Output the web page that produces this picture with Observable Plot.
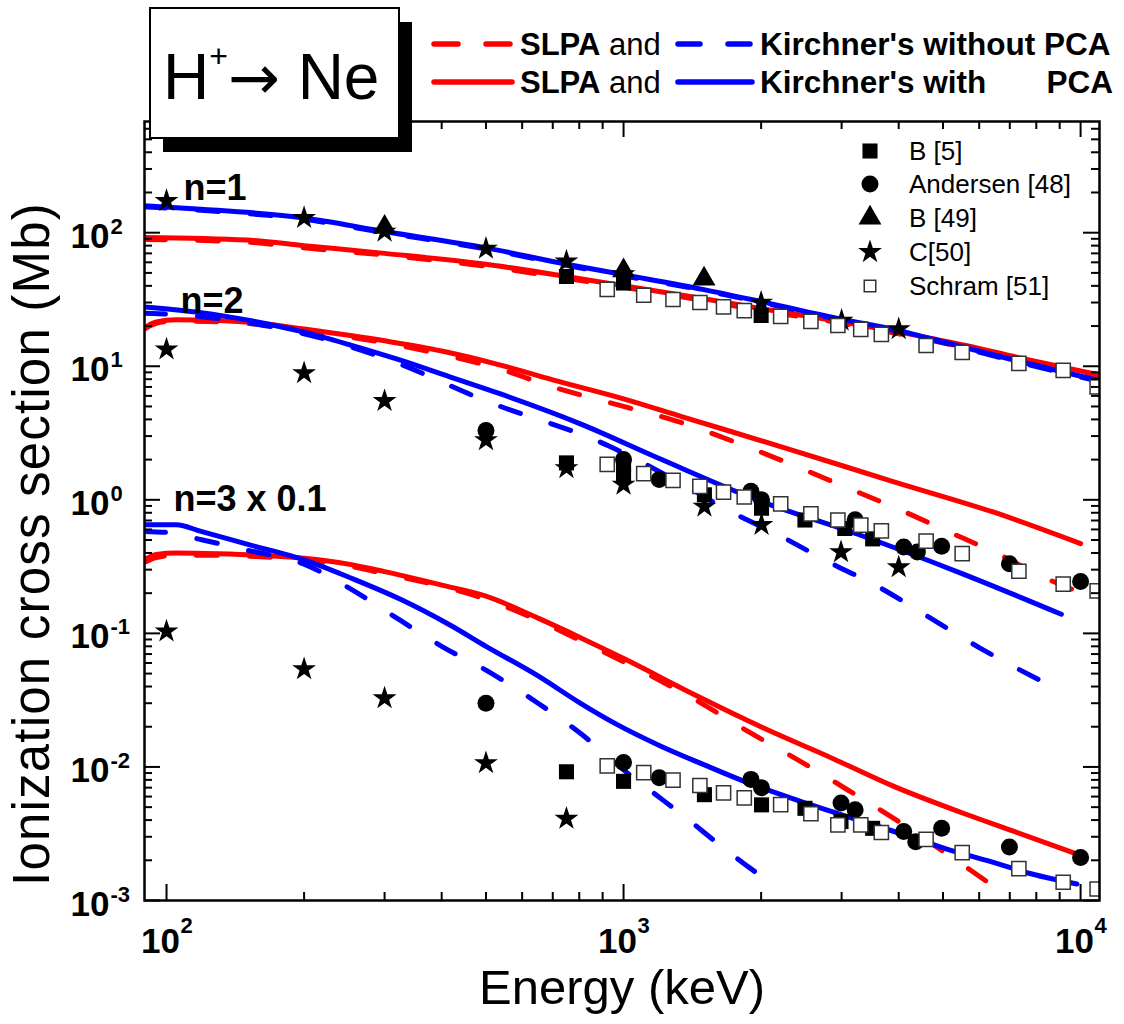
<!DOCTYPE html>
<html>
<head>
<meta charset="utf-8">
<script src="https://cdn.jsdelivr.net/npm/d3@7"></script>
<script src="https://cdn.jsdelivr.net/npm/@observablehq/plot@0.6"></script>
<style>
  body { margin: 0; background: #fff; font-family: "Liberation Sans", Arial, sans-serif; }
  #wrap { position: relative; width: 1124px; height: 1024px; overflow: hidden; }
  #wrap svg { position: absolute; left: 0; top: 0; }
</style>
</head>
<body>
<div id="wrap"></div>
<script>
// ---------------- data (energy keV, cross section Mb; n=3 already x0.1) ----------------
// SLPA without PCA (red dashed)
const slpaWithout_n1 = [[89.5,89],[150,85],[200,77],[300,68],[500,56],[750,45.5],[1000,39],[1500,31],[2000,26.2],[3000,21],[4000,17.5],[5500,14],[7400,11.2],[11000,8.4]];
const slpaWithout_n2 = [[89.5,19],[95,21],[105,21.8],[130,21.5],[160,20.5],[200,18.5],[300,15],[400,12.3],[538,9.5],[700,7.0],[1000,5.0],[1295,3.92],[1884,2.46],[2427,1.74],[3105,1.22],[4000,0.85],[5153,0.575],[6580,0.395],[8472,0.255],[10000,0.202]];
const slpaWithout_n3 = [[89.5,0.34],[95,0.37],[105,0.385],[130,0.385],[160,0.375],[200,0.355],[250,0.32],[300,0.28],[400,0.225],[500,0.18],[650,0.125],[807,0.088],[1014,0.0598],[1462,0.0307],[1884,0.0182],[2427,0.0111],[3126,0.00658],[4000,0.0039],[5153,0.00218],[6580,0.00122]];
// SLPA with PCA (red solid)
const slpaWith_n1 = [[89.5,92],[150,88],[200,80],[300,70],[500,58],[750,47],[1000,40],[1500,32],[2000,27],[3000,21.5],[4000,18],[5500,14.5],[7400,11.5],[11000,8.6]];
const slpaWith_n2 = [[89.5,19.5],[95,21.5],[105,22.3],[130,22],[160,21],[200,19],[300,15.5],[400,13],[538,10.2],[700,7.9],[1000,5.7],[1340,4.2],[2307,2.39],[3890,1.37],[6580,0.79],[10000,0.47]];
const slpaWith_n3 = [[89.5,0.356],[95,0.39],[105,0.40],[130,0.395],[160,0.385],[200,0.365],[250,0.33],[300,0.29],[400,0.23],[500,0.19],[650,0.13],[807,0.0925],[1014,0.0634],[1438,0.0344],[2042,0.0193],[2891,0.01143],[3892,0.00718],[5520,0.00452],[7178,0.00328],[10000,0.00218]];
// Kirchner's without PCA (blue dashed)
const kirchWithout_n1 = [[89.5,156],[119,147],[200,126],[300,100],[500,75.5],[750,57],[1000,47.5],[1500,37],[2000,30],[3000,22.2],[4000,18.2],[5500,13.8],[7400,10.6],[11000,7.7]];
const kirchWithout_n2 = [[89.5,25],[119,23.5],[200,17.5],[300,11.5],[500,5.5],[929,2.53],[1329,1.34],[1714,0.817],[2188,0.543],[2818,0.341],[3630,0.221],[4677,0.131],[6026,0.0776],[9162,0.0363]];
const kirchWithout_n3 = [[89.5,0.58],[100,0.57],[120,0.5],[150,0.42],[200,0.33],[250,0.22],[325,0.125],[400,0.08],[500,0.053],[650,0.03],[807,0.0177],[1000,0.0095],[1177,0.0062],[1329,0.00451],[1714,0.00225],[2188,0.00122]];
// Kirchner's with PCA (blue solid)
const kirchWith_n1 = [[89.5,159],[119,150],[200,129],[300,102],[500,77],[750,58],[1000,48.5],[1500,37.5],[2000,30.5],[3000,22.5],[4000,18.5],[5500,14],[7400,10.8],[11000,7.8]];
const kirchWith_n2 = [[89.5,27.8],[119,25.2],[152,22],[200,18],[253,14.4],[325,11.1],[418,8.3],[538,6.2],[807,3.69],[1208,2.01],[2004,0.97],[3266,0.55],[5520,0.279],[9077,0.139]];
const kirchWith_n3 = [[89.5,0.65],[105,0.65],[119,0.58],[152,0.46],[200,0.355],[253,0.26],[325,0.18],[418,0.115],[500,0.08],[650,0.048],[807,0.0298],[962,0.021],[1207,0.0143],[1489,0.0105],[1837,0.0078],[2307,0.0059],[2991,0.0044],[3892,0.0033],[5058,0.00245],[6580,0.00189],[7830,0.00158],[9817,0.00133]];

// experiments
const dataB5 = [[750,47],[1000,42],[2000,24],
  [750,1.89],[1000,1.8],[1000,1.55],[1503,1.09],[2004,0.865],[2494,0.706],[3048,0.61],[3508,0.51],
  [750,0.0092],[1000,0.0078],[1503,0.0062],[2004,0.0052],[2494,0.0049],[2991,0.0039],[3508,0.00347]];
const dataAndersen48 = [[500,3.3],[1000,2.0],[1197,1.42],[1900,1.16],[2004,1.0],[3212,0.71],[4102,0.444],[4395,0.406],[4966,0.449],[6987,0.332],[10000,0.245],
  [500,0.030],[1000,0.0108],[1197,0.0083],[1900,0.00807],[2004,0.00698],[2991,0.00537],[3212,0.00478],[4102,0.00328],[4358,0.00275],[4966,0.00347],[6987,0.00252],[10000,0.0021]];
const dataB49 = [[300,110],[1000,52],[1500,45]];
const dataC50 = [[100,173],[200,129],[300,102],[500,76],[750,61],[1000,49],[2000,30],[3000,22],[4000,19],
  [100,13.4],[200,8.9],[300,5.5],[500,2.8],[750,1.73],[1000,1.3],[1503,0.89],[2004,0.65],[2991,0.406],[4000,0.313],
  [100,0.1035],[200,0.054],[300,0.0327],[500,0.0107],[750,0.0041]];
const schramEnergy = [921,1107,1283,1469,1655,1837,2207,2570,2944,3304,3665,4592,5508,7328,9162,10870];
const schram_n1 = [37.6,34,31.6,30,27.8,26.1,23.6,21.7,20.2,18.9,17.3,14.3,12.7,10.5,9.3,7.0];
const schram_n2 = [1.84,1.57,1.40,1.26,1.14,1.05,0.933,0.784,0.706,0.647,0.586,0.49,0.395,0.292,0.234,0.208];
const schram_n3 = [0.0102,0.00906,0.00797,0.00726,0.0064,0.00586,0.00522,0.00446,0.00368,0.00368,0.00323,0.00287,0.00228,0.00173,0.00137,0.00122];

const curveLabels = [
  {text: "n=1", E: 108.9, s: 176},
  {text: "n=2", E: 107.3, s: 24.9},
  {text: "n=3 x 0.1", E: 103.6, s: 0.83}
];
const xMajor = [100, 1000, 10000];
const xMinor = [200,300,400,500,600,700,800,900,2000,3000,4000,5000,6000,7000,8000,9000];
const yMajor = [1e-3, 1e-2, 1e-1, 1, 10, 100];

// ---------------- layout ----------------
const W = 1124, H = 1024, mL = 144, mR = 25, mT = 121, mB = 124;
const innerW = W - mL - mR, innerH = H - mT - mB;
const yTop = 680;
const yMinor = [];
for (let k = -3; k <= 2; k++) for (let m = 2; m <= 9; m++) { const v = m * Math.pow(10, k); if (v < yTop) yMinor.push(v); }

const RED = "#ff0000", BLUE = "#0000ff";
const DASH = "21,32";
const lineStyle = {x: d => d[0], y: d => d[1], strokeWidth: 5, strokeLinecap: "round", curve: "monotone-x", clip: true};
const schramPts = [schram_n1, schram_n2, schram_n3].flatMap(arr => arr.map((v, i) => [schramEnergy[i], v]));
const P = {x: d => d[0], y: d => d[1], clip: true};

const chart = Plot.plot({
  width: W, height: H,
  marginLeft: mL, marginRight: mR, marginTop: mT, marginBottom: mB,
  x: {type: "log", domain: [89.5, 11000], axis: null},
  y: {type: "log", domain: [1e-3, yTop], axis: null},
  style: {fontFamily: '"Liberation Sans", Arial, sans-serif', background: "white", color: "black", overflow: "visible"},
  marks: [
    // curves
    ...[slpaWithout_n1, slpaWithout_n2, slpaWithout_n3].map(a => Plot.line(a, {...lineStyle, stroke: RED, strokeDasharray: DASH})),
    ...[slpaWith_n1, slpaWith_n2, slpaWith_n3].map(a => Plot.line(a, {...lineStyle, stroke: RED})),
    ...[kirchWithout_n1, kirchWithout_n2, kirchWithout_n3].map(a => Plot.line(a, {...lineStyle, stroke: BLUE, strokeDasharray: DASH})),
    ...[kirchWith_n1, kirchWith_n2, kirchWith_n3].map(a => Plot.line(a, {...lineStyle, stroke: BLUE})),
    // experiments
    Plot.dot(dataC50, {...P, symbol: "star", r: 7.5, fill: "black"}),
    Plot.dot(dataB5, {...P, symbol: "square", r: 8.5, fill: "black"}),
    Plot.dot(dataAndersen48, {...P, symbol: "circle", r: 8.5, fill: "black"}),
    Plot.dot(dataB49, {...P, symbol: "triangle", r: 8.5, fill: "black"}),
    Plot.dot(schramPts, {...P, symbol: "square", r: 8, fill: "white", stroke: "#333", strokeWidth: 1.5}),
    // frame & inward ticks on four sides
    Plot.frame({strokeWidth: 2.5}),
    Plot.ruleX(xMajor, {insetTop: innerH - 16, strokeWidth: 2}),
    Plot.ruleX(xMinor, {insetTop: innerH - 8, strokeWidth: 2}),
    Plot.ruleX(xMajor, {insetBottom: innerH - 16, strokeWidth: 2}),
    Plot.ruleX(xMinor, {insetBottom: innerH - 8, strokeWidth: 2}),
    Plot.ruleY(yMajor, {insetRight: innerW - 16, strokeWidth: 2}),
    Plot.ruleY(yMinor, {insetRight: innerW - 8, strokeWidth: 2}),
    Plot.ruleY(yMajor, {insetLeft: innerW - 16, strokeWidth: 2}),
    Plot.ruleY(yMinor, {insetLeft: innerW - 8, strokeWidth: 2}),
    // tick labels
    Plot.text(xMajor, {x: d => d, frameAnchor: "bottom", text: () => "10", lineAnchor: "bottom", dy: 52, dx: -6, fontSize: 35, fontWeight: "bold"}),
    Plot.text(xMajor, {x: d => d, frameAnchor: "bottom", text: d => String(Math.round(Math.log10(d))), textAnchor: "start", lineAnchor: "bottom", dy: 32, dx: 14, fontSize: 22, fontWeight: "bold"}),
    Plot.text(yMajor, {y: d => d, frameAnchor: "left", text: () => "10", textAnchor: "end", lineAnchor: "bottom", dx: -35, dy: 15, fontSize: 35, fontWeight: "bold"}),
    Plot.text(yMajor, {y: d => d, frameAnchor: "left", text: d => String(Math.round(Math.log10(d))), textAnchor: "start", lineAnchor: "bottom", dx: -34, dy: 1, fontSize: 22, fontWeight: "bold"}),
    // x axis title
    Plot.text(["Energy (keV)"], {frameAnchor: "bottom", text: d => d, lineAnchor: "bottom", dy: 103, fontSize: 49}),
    // curve labels
    Plot.text(curveLabels, {x: "E", y: "s", text: "text", textAnchor: "start", lineAnchor: "bottom", fontSize: 36, fontWeight: "bold"})
  ]
});
document.getElementById("wrap").appendChild(chart);

// ---------------- overlay: y title, title box & legends ----------------
const ov = d3.select("#wrap").append("svg").attr("width", W).attr("height", H)
  .style("font-family", '"Liberation Sans", Arial, sans-serif');
// y axis title
ov.append("text").attr("transform", "translate(49,544) rotate(-90)")
  .attr("text-anchor", "middle").attr("font-size", 51).attr("letter-spacing", "1.2px")
  .text("Ionization cross section (Mb)");
// title box
ov.append("rect").attr("x", 163).attr("y", 22).attr("width", 249).attr("height", 130).attr("fill", "black");
ov.append("rect").attr("x", 150).attr("y", 8).attr("width", 249).attr("height", 130).attr("fill", "white").attr("stroke", "black").attr("stroke-width", 2);
const tt = ov.append("text").attr("x", 163).attr("y", 99).attr("font-size", 64);
tt.append("tspan").text("H");
tt.append("tspan").attr("dy", -32).attr("font-size", 32).text("+");
tt.append("tspan").attr("dy", 32).attr("font-family", '"DejaVu Sans", sans-serif').attr("font-size", 62).text("\u2192");
tt.append("tspan").text(" Ne");

// top legend (line styles)
const legRows = [
  {y: 44, dash: true, kText: "Kirchner's without PCA", pca: null},
  {y: 82, dash: false, kText: "Kirchner's with", pca: "PCA"}
];
legRows.forEach(r => {
  const l1 = ov.append("line").attr("x1", 434).attr("x2", 512).attr("y1", r.y).attr("y2", r.y)
    .attr("stroke", RED).attr("stroke-width", 5.5).attr("stroke-linecap", "round");
  const l2 = ov.append("line").attr("x1", 678).attr("x2", 752).attr("y1", r.y).attr("y2", r.y)
    .attr("stroke", BLUE).attr("stroke-width", 5.5).attr("stroke-linecap", "round");
  if (r.dash) { l1.attr("stroke-dasharray", "24,28"); l2.attr("stroke-dasharray", "22,28"); }
  const t = ov.append("text").attr("x", 520).attr("y", r.y + 11).attr("font-size", 31);
  t.append("tspan").attr("font-weight", "bold").text("SLPA");
  t.append("tspan").text(" and");
  ov.append("text").attr("x", 760).attr("y", r.y + 11).attr("font-size", 31.5).attr("font-weight", "bold").text(r.kText);
  if (r.pca) ov.append("text").attr("x", 1113).attr("y", r.y + 11).attr("font-size", 31.5).attr("font-weight", "bold").attr("text-anchor", "end").text(r.pca);
});

// inner legend (experiments)
const expLegend = [
  {sym: d3.symbolSquare, r: 8.5, fill: "black", stroke: "none", label: "B [5]"},
  {sym: d3.symbolCircle, r: 8.5, fill: "black", stroke: "none", label: "Andersen [48]"},
  {sym: d3.symbolTriangle, r: 8.5, fill: "black", stroke: "none", label: "B [49]"},
  {sym: d3.symbolStar, r: 7.5, fill: "black", stroke: "none", label: "C[50]"},
  {sym: d3.symbolSquare, r: 6.5, fill: "white", stroke: "#333", label: "Schram [51]"}
];
const legY = [151, 184, 218, 252, 286];
expLegend.forEach((e, i) => {
  ov.append("path").attr("transform", `translate(870,${legY[i]})`)
    .attr("d", d3.symbol(e.sym, Math.PI * e.r * e.r)())
    .attr("fill", e.fill).attr("stroke", e.stroke).attr("stroke-width", 1.5);
  ov.append("text").attr("x", 909).attr("y", legY[i] + 9).attr("font-size", 26).text(e.label);
});
</script>
</body>
</html>
